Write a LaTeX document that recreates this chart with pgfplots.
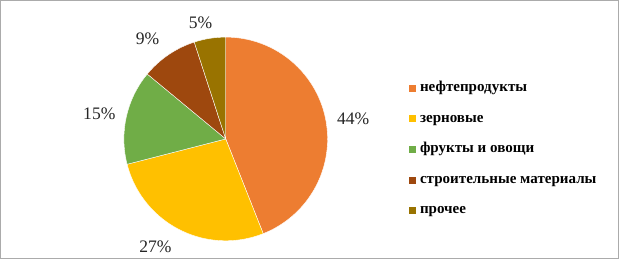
\documentclass[border=0pt]{standalone}
\usepackage{pgfplots}
\usepackage{pgfplotstable}
\pgfplotsset{compat=1.18}
\usepackage{fontspec}
\setmainfont{Liberation Serif}

\definecolor{cOil}{HTML}{ED7D31}
\definecolor{cGrain}{HTML}{FFC000}
\definecolor{cFruit}{HTML}{70AD47}
\definecolor{cBuild}{HTML}{9E480E}
\definecolor{cOther}{HTML}{997300}
\definecolor{frameGray}{HTML}{ABABAB}

\pgfplotstableread{
share col lx ly
44 cOil 352 142
27 cGrain 155 14
15 cFruit 99 147
9 cBuild 147 221
5 cOther 200 237.5
}\piedata

\begin{document}
\begin{tikzpicture}
\begin{axis}[
  x=1bp, y=1bp,
  xmin=0, xmax=619, ymin=0, ymax=260,
  scale only axis,
  hide axis,
  clip=false,
  legend style={
    at={(axis cs:407.5,179)}, anchor=north west,
    draw=none, fill=none, inner sep=0pt,
    font=\fontsize{15bp}{17bp}\selectfont\bfseries,
    row sep=17bp, column sep=4bp,
    nodes={inner sep=0pt, text height=10bp, text depth=3.5bp},
  },
  legend cell align=left,
  legend image code/.code={\fill[#1, draw=none] (0bp,-3.5bp) rectangle (7bp,3.5bp);},
]
% frame
\draw[frameGray, line width=1bp] (axis cs:0.5,2.5) rectangle (axis cs:616.5,259.5);

% pie slices from the table
\def\angA{90}
\pgfplotsforeachungrouped \i in {0,...,4}{%
  \pgfplotstablegetelem{\i}{share}\of\piedata \let\val\pgfplotsretval
  \pgfplotstablegetelem{\i}{col}\of\piedata \let\col\pgfplotsretval
  \pgfplotstablegetelem{\i}{lx}\of\piedata \let\lx\pgfplotsretval
  \pgfplotstablegetelem{\i}{ly}\of\piedata \let\ly\pgfplotsretval
  \pgfmathsetmacro\angB{\angA-3.6*\val}%
  \edef\temp{%
    \noexpand\fill[\col, draw=white, line width=0.4bp, line join=round]
      (axis cs:225,121.5) -- ++(\angA:101.5bp)
      arc[start angle=\angA, end angle=\angB, radius=101.5bp] -- cycle;
    \noexpand\node[font=\noexpand\fontsize{17.5bp}{20bp}\noexpand\selectfont, text=black!85]
      at (axis cs:\lx,\ly) {\val\noexpand\%};
  }%
  \temp
  \global\let\angA\angB
}

\addlegendimage{fill=cOil}
\addlegendentry{нефтепродукты}
\addlegendimage{fill=cGrain}
\addlegendentry{зерновые}
\addlegendimage{fill=cFruit}
\addlegendentry{фрукты и овощи}
\addlegendimage{fill=cBuild}
\addlegendentry{строительные материалы}
\addlegendimage{fill=cOther}
\addlegendentry{прочее}
\end{axis}
\end{tikzpicture}
\end{document}
